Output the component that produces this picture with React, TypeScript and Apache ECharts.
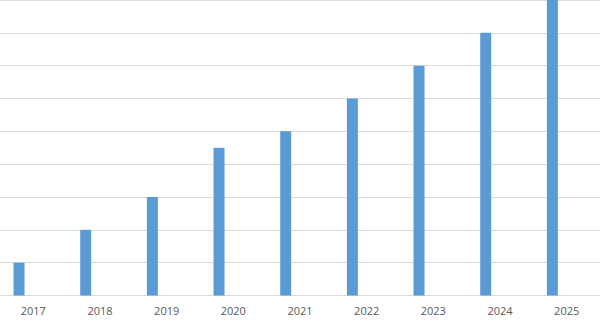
import React, { useEffect, useRef } from "react";
import * as echarts from "echarts";

const categories = ["2017", "2018", "2019", "2020", "2021", "2022", "2023", "2024", "2025"];
const seriesA = [1, 2, 3, 4.5, 5, 6, 7, 8, 9];
const seriesB = [null, null, null, null, null, null, null, null, null];

export default function App() {
  const ref = useRef<HTMLDivElement>(null);
  useEffect(() => {
    document.body.style.margin = "0";
    const chart = echarts.init(ref.current!, null, { renderer: "svg" });
    chart.setOption({
      animation: false,
      backgroundColor: "#ffffff",
      grid: { left: 0, right: 0, top: -1.5, bottom: 33.5, containLabel: false },
      xAxis: {
        type: "category",
        data: categories,
        axisLine: { lineStyle: { color: "#d9d9d9", width: 1 } },
        axisTick: { show: false },
        axisLabel: { color: "#595959", fontSize: 11, fontFamily: "Open Sans", margin: 9 },
      },
      yAxis: {
        type: "value",
        min: 0,
        max: 9,
        interval: 1,
        axisLabel: { show: false },
        axisLine: { show: false },
        axisTick: { show: false },
        splitLine: { lineStyle: { color: "#d9d9d9", width: 1 } },
      },
      series: [
        { type: "bar", data: seriesA, barWidth: 11, barGap: "160%", itemStyle: { color: "#5b9bd5" } },
        { type: "bar", data: seriesB, barWidth: 11, itemStyle: { color: "#ed7d31" } },
      ],
    });
    return () => chart.dispose();
  }, []);
  return <div ref={ref} style={{ position: "absolute", left: 0, top: 0, width: 600, height: 329 }} />;
}
